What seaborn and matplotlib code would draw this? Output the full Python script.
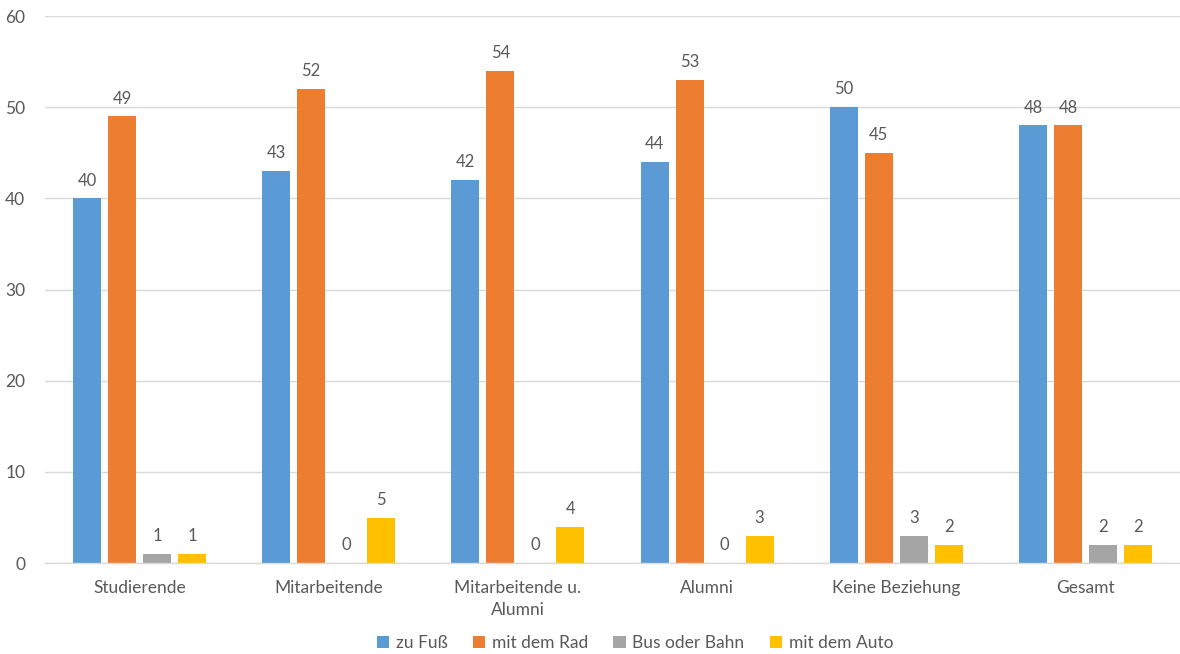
import matplotlib
matplotlib.use("Agg")
import matplotlib.pyplot as plt
import seaborn as sns
import pandas as pd

categories = ["Studierende", "Mitarbeitende", "Mitarbeitende u.\nAlumni",
              "Alumni", "Keine Beziehung", "Gesamt"]
series_names = ["zu Fuß", "mit dem Rad", "Bus oder Bahn", "mit dem Auto"]
zu_fuss = [40, 43, 42, 44, 50, 48]
mit_dem_rad = [49, 52, 54, 53, 45, 48]
bus_oder_bahn = [1, 0, 0, 0, 3, 2]
mit_dem_auto = [1, 5, 4, 3, 2, 2]
y_ticks = [0, 10, 20, 30, 40, 50, 60]

colors = ["#5B9BD5", "#ED7D31", "#A5A5A5", "#FFC000"]
text_color = "#595959"
grid_color = "#D9D9D9"

rows = []
for name, vals in zip(series_names, [zu_fuss, mit_dem_rad, bus_oder_bahn, mit_dem_auto]):
    for cat, v in zip(categories, vals):
        rows.append({"Kategorie": cat, "Verkehrsmittel": name, "Wert": v})
df = pd.DataFrame(rows)

sns.set_theme(style="white")
plt.rcParams["font.family"] = ["Lato", "DejaVu Sans"]

fig = plt.figure(figsize=(11.8, 6.54), dpi=100)
ax = fig.add_axes([0.038, 0.139, 0.962, 0.8365])

sns.barplot(data=df, x="Kategorie", y="Wert", hue="Verkehrsmittel",
            order=categories, hue_order=series_names, palette=colors,
            width=0.74, gap=0.2, saturation=1, errorbar=None, ax=ax,
            linewidth=0, legend=True)

for container in ax.containers:
    ax.bar_label(container, fmt="%g", padding=7, fontsize=12, color=text_color)

ax.set_ylim(0, 60)
ax.set_xlim(-0.5, len(categories) - 0.5)
ax.set_yticks(y_ticks)
ax.yaxis.grid(True, color=grid_color, linewidth=1)
ax.set_axisbelow(True)
for s in ["top", "right", "left"]:
    ax.spines[s].set_visible(False)
ax.spines["bottom"].set_color(grid_color)
ax.spines["bottom"].set_linewidth(1)
ax.tick_params(axis="both", length=0, labelsize=12.5, colors=text_color)
ax.tick_params(axis="x", pad=12)
ax.tick_params(axis="y", pad=14)
for lbl in ax.get_xticklabels():
    lbl.set_linespacing(1.45)
ax.set_xlabel("")
ax.set_ylabel("")

handles, labels = ax.get_legend_handles_labels()
ax.legend(handles, labels, loc="lower center", bbox_to_anchor=(0.52, -0.19),
          ncol=4, frameon=False, fontsize=12.5, handlelength=0.7,
          handleheight=0.7, handletextpad=0.4, columnspacing=1.45,
          labelcolor=text_color)

fig.savefig("out.png", dpi=100)
